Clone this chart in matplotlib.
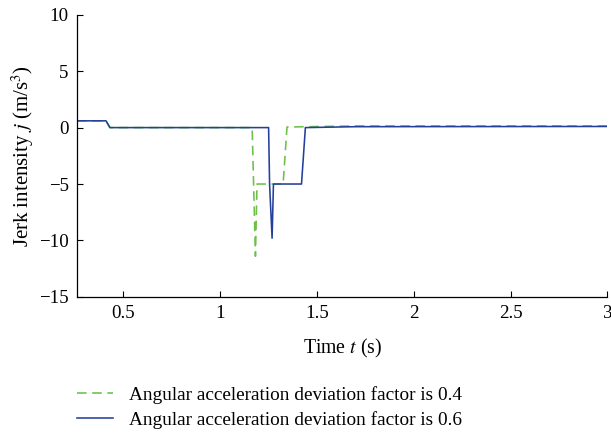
import matplotlib
matplotlib.use('Agg')
import matplotlib.pyplot as plt

plt.rcParams['font.family'] = ['Liberation Serif', 'DejaVu Serif']
plt.rcParams['mathtext.fontset'] = 'stix'

# jerk profiles, time (s) vs jerk (m/s^3)
t_04 = [0.26, 0.41, 0.43, 1.165, 1.182, 1.19, 1.325, 1.345, 1.70, 3.0]
j_04 = [0.6, 0.6, 0.0, 0.0, -11.4, -5.0, -5.0, 0.05, 0.15, 0.15]

t_06 = [0.26, 0.41, 0.43, 1.25, 1.255, 1.268, 1.275, 1.42, 1.44, 1.70, 3.0]
j_06 = [0.6, 0.6, 0.0, 0.0, -5.0, -9.8, -5.0, -5.0, 0.0, 0.08, 0.1]

label_04 = 'Angular acceleration deviation factor is 0.4'
label_06 = 'Angular acceleration deviation factor is 0.6'

xticks = [0.5, 1, 1.5, 2, 2.5, 3]
xticklabels = ['0.5', '1', '1.5', '2', '2.5', '3']
yticks = [10, 5, 0, -5, -10, -15]

fs = 13.6

fig = plt.figure(figsize=(6.11, 4.34), dpi=100)
ax = fig.add_axes([0.126, 0.316, 0.868, 0.650])

l1, = ax.plot(t_04, j_04, color='#6cc04a', linestyle=(0, (6, 3.5)), linewidth=1.15, label=label_04)
l2, = ax.plot(t_06, j_06, color='#24409a', linewidth=1.15, label=label_06)

ax.set_xlim(0.26, 3.0)
ax.set_ylim(-15, 10)
ax.set_xticks(xticks)
ax.set_xticklabels(xticklabels)
ax.set_yticks(yticks)
ax.tick_params(direction='in', length=4, width=0.8, labelsize=fs, pad=6)

ax.spines['top'].set_visible(False)
ax.spines['right'].set_visible(False)
for s in ('left', 'bottom'):
    ax.spines[s].set_linewidth(0.9)

ax.set_xlabel('Time $t$ (s)', fontsize=14.2, labelpad=11)
ax.set_ylabel('Jerk intensity $j$ (m/s$^3$)', fontsize=15, labelpad=2)

fig.legend(handles=[l1, l2], loc='upper left', bbox_to_anchor=(0.114, 0.128),
           frameon=False, fontsize=13.9, handlelength=1.85, handletextpad=0.8,
           labelspacing=0.38, borderaxespad=0)

plt.savefig('out.png', dpi=100)
